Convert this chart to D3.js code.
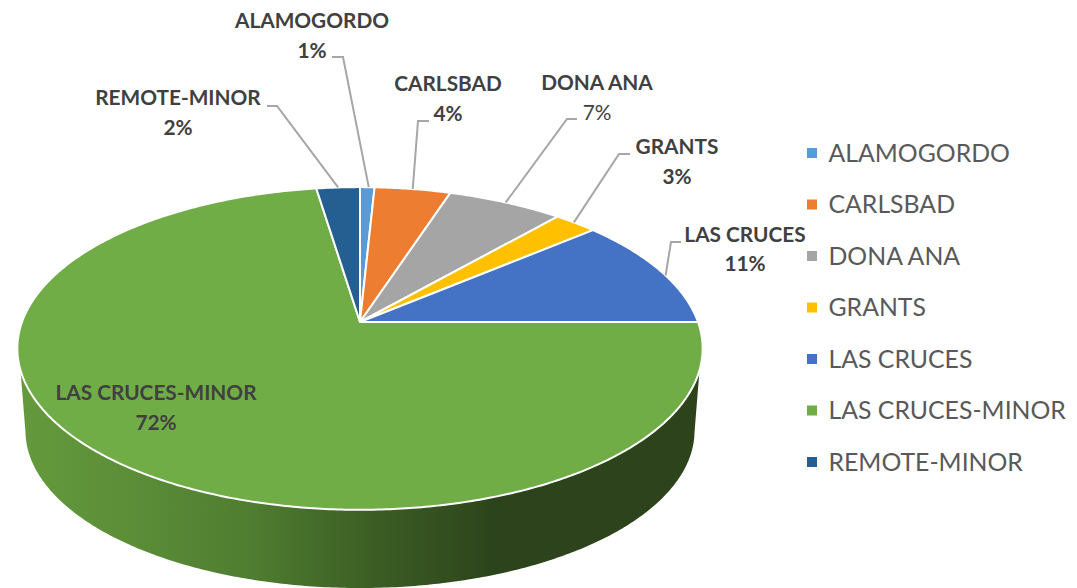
<!DOCTYPE html>
<html>
<head>
<meta charset="utf-8">
<style>
    html, body { margin: 0; padding: 0; background: #fff; }
    svg { display: block; }
    text { font-family: Lato, "Open Sans", sans-serif; }
</style>
<script src="https://cdn.jsdelivr.net/npm/d3@7"></script>
</head>
<body>
<div id="chart"></div>
<script>
'use strict';

var categories = ['ALAMOGORDO', 'CARLSBAD', 'DONA ANA', 'GRANTS', 'LAS CRUCES', 'LAS CRUCES-MINOR', 'REMOTE-MINOR']
var shares = [0.8, 4.2, 6.4, 2.4, 11.2, 72.6, 2.4]
var shareLabels = ['1%', '4%', '7%', '3%', '11%', '72%', '2%']

var colors = ['#5b9bd5', '#ed7d31', '#a5a5a5', '#ffc000', '#4472c4', '#70ad47', '#255e91']

// label centre x, name baseline, percent baseline, leader elbow and end
var labelLayout = [
    { x: 312, y1: 28, y2: 58, bold2: true, leader: [[332, 57], [343, 57]] },
    { x: 448, y1: 91, y2: 121, bold2: true, leader: [[429, 121], [418, 121]] },
    { x: 597, y1: 90, y2: 120, bold2: false, leader: [[577, 119], [567, 119]] },
    { x: 677, y1: 154, y2: 184, bold2: true, leader: [[630, 154], [619, 154]] },
    { x: 745, y1: 242, y2: 271, bold2: true, leader: [[681, 242], [671, 242]] },
    { x: 156, y1: 400, y2: 430, bold2: true, leader: null },
    { x: 178, y1: 105, y2: 135, bold2: true, leader: [[267, 106], [277, 106]] }
]
// where on the rim each leader lands, as angle inside the slice (0..1)
var leaderAt = [0.6, 0.5, 0.5, 0.45, 0.55, 0, 0.5]

var width = 1077
var height = 588
var svg = d3.select('#chart').append('svg').attr('width', width).attr('height', height)

var persp = 0.164 // far side of the disc is squeezed
var topDisc = { cx: 360, cy: 322, rx: 338, ry: 157 }
var lowDisc = { cx: 360, cy: 405, rx: 330, ry: 153 }

function project(disc, a, r) {
    var u = Math.sin(a) * r
    var v = Math.cos(a) * r
    var w = 1 + persp * v
    return [disc.cx + disc.rx * u / w, disc.cy - disc.ry * v / w]
}

function ring(disc, a0, a1) {
    var n = Math.max(2, Math.ceil(Math.abs(a1 - a0) / 0.01))
    return d3.range(n + 1).map(function(i) {
        return project(disc, a0 + (a1 - a0) * i / n, 1)
    })
}

var line = d3.line()
var rad = Math.PI / 180
var arcs = d3.pie().sort(null).value(function(d) { return d })(shares)

// side wall
var grad = svg.append('defs').append('linearGradient')
    .attr('id', 'wall')
    .attr('gradientUnits', 'userSpaceOnUse')
    .attr('x1', 18).attr('x2', 702).attr('y1', 0).attr('y2', 0)
var wallStops = [[0, '#649a3d'], [0.17, '#5b8d37'], [0.34, '#4f7d31'], [0.5, '#3e6125'], [0.7, '#2c431b'], [1, '#2c431b']]
wallStops.forEach(function(s) {
    grad.append('stop').attr('offset', s[0]).attr('stop-color', s[1])
})

var wallPts = ring(topDisc, 107 * rad, 253 * rad).concat(ring(lowDisc, 260 * rad, 100 * rad))
svg.append('path')
    .attr('d', line(wallPts) + 'Z')
    .attr('fill', 'url(#wall)')

// slices
svg.selectAll('.slice')
    .data(arcs)
    .enter()
    .append('path')
    .attr('class', 'slice')
    .attr('d', function(d) {
        var pts = [[topDisc.cx, topDisc.cy]].concat(ring(topDisc, d.startAngle, d.endAngle))
        return line(pts) + 'Z'
    })
    .attr('fill', function(d, i) { return colors[i] })
    .attr('stroke', '#fff')
    .attr('stroke-width', 2)
    .attr('stroke-linejoin', 'round')

// leaders
labelLayout.forEach(function(l, i) {
    if (!l.leader) return
    var a = arcs[i].startAngle + (arcs[i].endAngle - arcs[i].startAngle) * leaderAt[i]
    var rim = project(topDisc, a, 1)
    svg.append('path')
        .attr('d', line([l.leader[0], l.leader[1], rim]))
        .attr('fill', 'none')
        .attr('stroke', '#a6a6a6')
        .attr('stroke-width', 2)
})

// data labels
labelLayout.forEach(function(l, i) {
    svg.append('text')
        .attr('x', l.x).attr('y', l.y1)
        .attr('text-anchor', 'middle')
        .attr('font-size', 20.8)
        .attr('font-weight', 700)
        .attr('fill', '#404040')
        .text(categories[i])
    svg.append('text')
        .attr('x', l.x).attr('y', l.y2)
        .attr('text-anchor', 'middle')
        .attr('font-size', 20.8)
        .attr('font-weight', l.bold2 ? 700 : 400)
        .attr('fill', '#404040')
        .text(shareLabels[i])
})

// legend
var legendY = d3.scalePoint().domain(categories).range([153, 462])
var legend = svg.selectAll('.legend')
    .data(categories)
    .enter()
    .append('g')
    .attr('class', 'legend')
    .attr('transform', function(d) { return 'translate(807,' + legendY(d) + ')' })

legend.append('rect')
    .attr('x', 0).attr('y', -5)
    .attr('width', 10).attr('height', 10)
    .attr('fill', function(d, i) { return colors[i] })

legend.append('text')
    .attr('x', 21.5).attr('y', 8.5)
    .attr('font-size', 24.8)
    .attr('fill', '#595959')
    .text(function(d) { return d })
</script>
</body>
</html>
